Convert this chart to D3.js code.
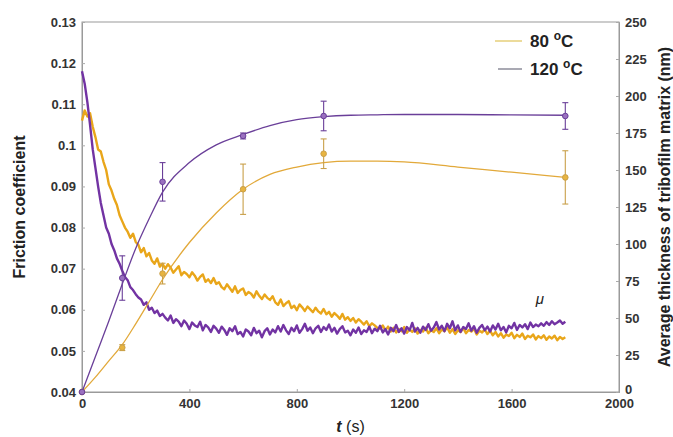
<!DOCTYPE html>
<html><head><meta charset="utf-8">
<script src="https://cdn.jsdelivr.net/npm/d3@7/dist/d3.min.js"></script>
<style>
body{margin:0;background:#fff;}
svg{display:block;font-family:"Liberation Sans",Arial,sans-serif;}
</style></head>
<body><svg id="c" width="673" height="437"></svg>
<script>
// ---- data ----
const xTicks = [0,400,800,1200,1600,2000];
const xTickLabels = ["0","400","800","1200","1600","2000"];
const leftTicks = [0.04,0.05,0.06,0.07,0.08,0.09,0.1,0.11,0.12,0.13];
const leftTickLabels = ["0.04","0.05","0.06","0.07","0.08","0.09","0.1","0.11","0.12","0.13"];
const rightTicks = [0,25,50,75,100,125,150,175,200,225,250];
const rightTickLabels = ["0","25","50","75","100","125","150","175","200","225","250"];
const seriesNames = ["80 °C","120 °C"];

const frictionStep = 10; // s between friction samples
const friction120 = [
0.1180,0.1150,0.1105,0.1050,0.0990,0.0945,0.0900,0.0860,0.0830,0.0800,
0.0785,0.0760,0.0745,0.0725,0.0712,0.0695,0.0680,0.0672,0.0655,0.0648,
0.0638,0.0630,0.0625,0.0612,0.0618,0.0600,0.0605,0.0592,0.0598,0.0585,0.0590,
0.0581,0.0574,0.0586,0.0568,0.0577,0.0571,0.0560,0.0574,0.0566,0.0553,0.0569,0.0562,0.0558,0.0571,0.0550,0.0563,0.0557,0.0546,0.0561,0.0554,
0.0544,0.0559,0.0551,0.0539,0.0555,0.0548,0.0560,0.0541,0.0546,0.0535,0.0552,0.0547,0.0538,0.0556,0.0543,0.0549,0.0533,0.0548,0.0555,0.0540,
0.0552,0.0545,0.0560,0.0547,0.0563,0.0550,0.0541,0.0556,0.0548,0.0562,0.0544,0.0553,0.0566,0.0549,0.0557,0.0543,0.0555,0.0561,0.0546,0.0558,
0.0551,0.0564,0.0547,0.0556,0.0542,0.0553,0.0560,0.0545,0.0549,0.0538,0.0552,0.0544,0.0557,0.0541,0.0550,0.0546,0.0559,0.0543,0.0554,0.0548,
0.0561,0.0545,0.0553,0.0540,0.0556,0.0548,0.0563,0.0546,0.0555,0.0542,0.0558,0.0550,0.0568,0.0547,0.0556,0.0544,0.0559,0.0551,0.0565,0.0549,
0.0557,0.0570,0.0552,0.0561,0.0548,0.0566,0.0555,0.0572,0.0550,0.0562,0.0546,0.0558,0.0553,0.0567,0.0549,0.0560,0.0544,0.0556,0.0563,0.0550,
0.0559,0.0547,0.0562,0.0552,0.0566,0.0550,0.0558,0.0545,0.0561,0.0555,0.0568,0.0551,0.0563,0.0557,0.0565,0.0553,0.0569,0.0558,0.0564,0.0560,
0.0567,0.0561,0.0570,0.0563,0.0572,0.0565,0.0569,0.0574,0.0566,0.0571
];
const friction80 = [
0.1060,0.1085,0.1070,0.1078,0.1045,0.1020,0.0990,0.0985,0.0960,0.0940,
0.0905,0.0890,0.0870,0.0855,0.0830,0.0815,0.0800,0.0790,0.0775,0.0785,
0.0765,0.0758,0.0740,0.0750,0.0730,0.0738,0.0720,0.0712,0.0725,0.0705,0.0712,
0.0700,0.0711,0.0703,0.0690,0.0698,0.0706,0.0684,0.0692,0.0687,0.0679,0.0691,0.0683,0.0671,0.0680,0.0686,0.0668,0.0674,0.0665,0.0677,0.0663,
0.0667,0.0655,0.0650,0.0662,0.0653,0.0644,0.0657,0.0641,0.0648,0.0652,0.0636,0.0643,0.0639,0.0630,0.0645,0.0634,0.0626,0.0637,0.0629,0.0624,
0.0633,0.0618,0.0612,0.0625,0.0609,0.0616,0.0621,0.0604,0.0610,0.0599,0.0613,0.0606,0.0597,0.0608,0.0601,0.0594,0.0605,0.0596,0.0591,0.0602,
0.0589,0.0595,0.0583,0.0592,0.0586,0.0578,0.0590,0.0576,0.0582,0.0573,0.0580,0.0569,0.0577,0.0571,0.0564,0.0572,0.0560,0.0567,0.0562,0.0556,
0.0554,0.0562,0.0550,0.0559,0.0547,0.0556,0.0545,0.0553,0.0548,0.0558,0.0544,0.0552,0.0546,0.0555,0.0542,0.0551,0.0547,0.0556,0.0543,0.0550,
0.0546,0.0555,0.0543,0.0552,0.0548,0.0557,0.0544,0.0553,0.0541,0.0550,0.0546,0.0556,0.0543,0.0551,0.0547,0.0554,0.0540,0.0549,0.0545,0.0552,
0.0541,0.0549,0.0538,0.0546,0.0535,0.0543,0.0532,0.0540,0.0536,0.0544,0.0531,0.0539,0.0534,0.0542,0.0529,0.0537,0.0533,0.0540,0.0528,0.0536,
0.0531,0.0538,0.0527,0.0535,0.0530,0.0537,0.0526,0.0534,0.0529,0.0533
];

// tribofilm thickness measurements (nm) with error
const thickTime = [0,150,300,600,900,1800];
const thick80 = [0,30,80,137,161,145];
const thick80Err = [0,2,7,17,10,18];
const thick120 = [0,77,142,173,186.5,186.5];
const thick120Err = [0,15,13,2,10,9];

// fitted trend curves (nm)
const fitTime = [0,50,100,150,200,250,300,400,500,600,700,800,900,1000,1100,1200,1400,1600,1800];
const fit80 = [0,10,21,32,46,61,76,101,121,137,147,152,155,156,156,155.5,152,148.5,145];
const fit120 = [0,24,48,73,97,117,135,155,167,174,180,184,186,187,187.3,187.5,187.5,187.2,187];

// ---- chart ----
const svg = d3.select("#c");
const x = d3.scaleLinear().domain([0,2000]).range([82,619]);
const yL = d3.scaleLinear().domain([0.04,0.13]).range([392,22]);
const yR = d3.scaleLinear().domain([0,250]).range([392,22]);
const cGold = "#E9A61A", cPurple = "#7233A3";
const cGoldFit = "#E2A93A", cPurpleFit = "#6A3F99";

// frame
svg.append("rect").attr("x",x(0)).attr("y",yL(0.13)).attr("width",x(2000)-x(0)).attr("height",yL(0.04)-yL(0.13))
  .attr("fill","none").attr("stroke","#9a9a9a").attr("stroke-width",1);

const tickText = g => g.selectAll("text").attr("font-size",13).attr("font-weight","bold").attr("fill","#333");
const gx = svg.append("g").attr("transform",`translate(0,${yL(0.04)})`)
  .call(d3.axisBottom(x).tickValues(xTicks).tickFormat((d,i)=>xTickLabels[i]).tickSize(-3).tickPadding(7));
gx.select(".domain").attr("stroke","#9a9a9a"); gx.selectAll("line").attr("stroke","#aaa"); tickText(gx);
const gl = svg.append("g").attr("transform",`translate(${x(0)},0)`)
  .call(d3.axisLeft(yL).tickValues(leftTicks).tickFormat((d,i)=>leftTickLabels[i]).tickSize(-3).tickPadding(6));
gl.select(".domain").attr("stroke","#9a9a9a"); gl.selectAll("line").attr("stroke","#aaa"); tickText(gl);
const gr = svg.append("g").attr("transform",`translate(${x(2000)},0)`)
  .call(d3.axisRight(yR).tickValues(rightTicks).tickFormat((d,i)=>rightTickLabels[i]).tickSize(-3).tickPadding(6));
gr.select(".domain").attr("stroke","#9a9a9a"); gr.selectAll("line").attr("stroke","#aaa"); tickText(gr);
gr.selectAll(".tick text").filter((d)=>d===0).attr("dy","0.1em");

// friction curves
const fLine = d3.line().x((d,i)=>x(i*frictionStep)).y(d=>yL(d));
svg.append("path").datum(friction80).attr("d",fLine).attr("fill","none").attr("stroke",cGold).attr("stroke-width",2.4).attr("stroke-linejoin","round");
svg.append("path").datum(friction120).attr("d",fLine).attr("fill","none").attr("stroke",cPurple).attr("stroke-width",2.4).attr("stroke-linejoin","round");

// fit curves
const tLine = d3.line().x((d,i)=>x(fitTime[i])).y(d=>yR(d)).curve(d3.curveMonotoneX);
svg.append("path").datum(fit80).attr("d",tLine).attr("fill","none").attr("stroke",cGoldFit).attr("stroke-width",1.3);
svg.append("path").datum(fit120).attr("d",tLine).attr("fill","none").attr("stroke",cPurpleFit).attr("stroke-width",1.3);

// error bars + markers
function points(vals, errs, col, mk){
  const g = svg.append("g");
  vals.forEach((v,i)=>{
    const cx = x(thickTime[i]);
    if(errs[i]>0){
      g.append("line").attr("x1",cx).attr("x2",cx).attr("y1",yR(v-errs[i])).attr("y2",yR(v+errs[i])).attr("stroke",col).attr("stroke-width",1.1);
      [v-errs[i],v+errs[i]].forEach(e=>g.append("line").attr("x1",cx-3).attr("x2",cx+3).attr("y1",yR(e)).attr("y2",yR(e)).attr("stroke",col).attr("stroke-width",1.1));
    }
    g.append("circle").attr("cx",cx).attr("cy",yR(v)).attr("r",2.8).attr("fill",mk).attr("stroke",col).attr("stroke-width",1);
  });
}
points(thick80, thick80Err, "#C9A04A", "#E8B440");
points(thick120, thick120Err, "#6A3F99", "#9A70C0");

// legend
const legend = [{name:seriesNames[0], col:"#E6CF7A", y:41, x1:495},{name:seriesNames[1], col:"#8C8C9A", y:69, x1:498}];
legend.forEach(l=>{
  svg.append("line").attr("x1",l.x1).attr("x2",522).attr("y1",l.y).attr("y2",l.y).attr("stroke",l.col).attr("stroke-width",1.5);
  const parts = l.name.split(" °");
  const t = svg.append("text").attr("x",530).attr("y",l.y+6).attr("font-size",17).attr("font-weight","bold").attr("fill","#222");
  t.append("tspan").text(parts[0]+" ");
  t.append("tspan").attr("font-size",12).attr("dy",-7).text("o");
  t.append("tspan").attr("dy",7).text("C");
});

// mu label
svg.append("text").attr("x",x(1690)).attr("y",yL(0.0615)).attr("font-size",15).attr("font-style","italic").attr("fill","#222").text("μ");

// axis titles
svg.append("text").attr("transform",`translate(25,${(yL(0.04)+yL(0.13))/2}) rotate(-90)`).attr("text-anchor","middle")
  .attr("font-size",16).attr("font-weight","bold").attr("fill","#222").text("Friction coefficient");
svg.append("text").attr("transform",`translate(670,${(yL(0.04)+yL(0.13))/2}) rotate(-90)`).attr("text-anchor","middle")
  .attr("font-size",16).attr("font-weight","bold").attr("fill","#222").text("Average thickness of tribofilm matrix (nm)");
const xt = svg.append("text").attr("x",(x(0)+x(2000))/2).attr("y",432).attr("text-anchor","middle").attr("font-size",16).attr("fill","#222");
xt.append("tspan").attr("font-style","italic").attr("font-weight","bold").text("t");
xt.append("tspan").text(" (s)");
</script></body></html>
